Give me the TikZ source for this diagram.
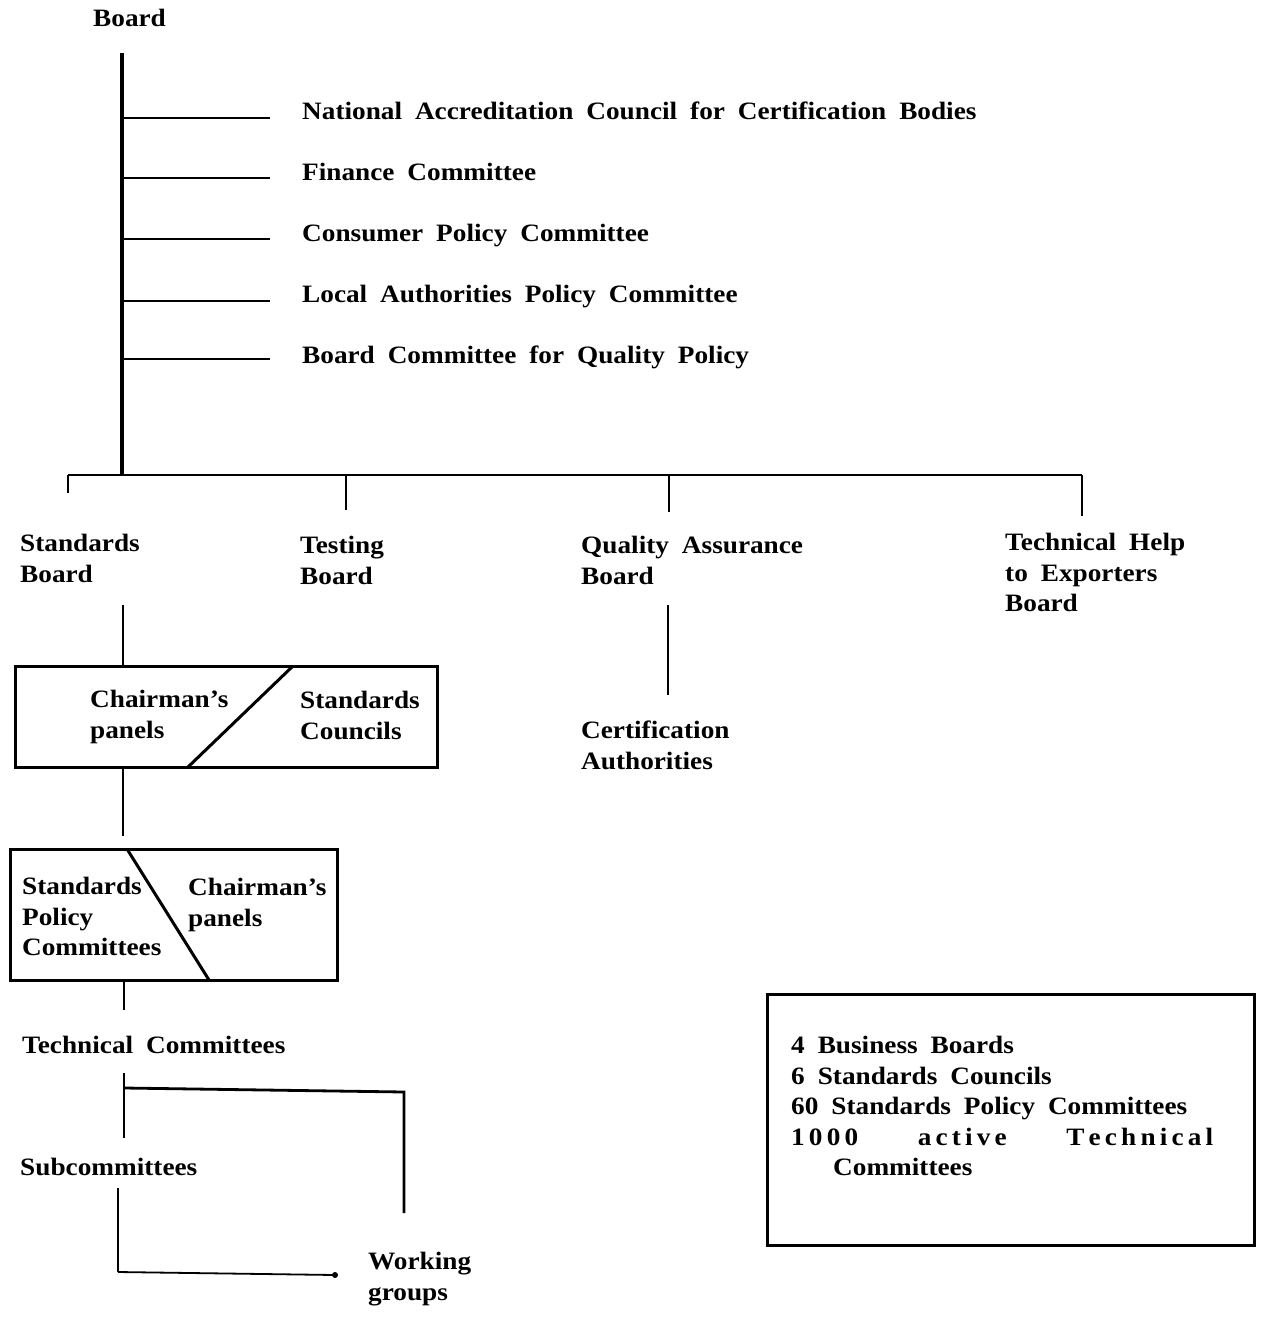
\documentclass[tikz,border=0pt]{standalone}
\usepackage{fontspec}
\setmainfont{Liberation Serif}[FakeStretch=1.09,WordSpace=1.9]
\begin{document}
\begin{tikzpicture}[x=1pt,y=-1pt,
  lbl/.style={font=\bfseries\fontsize{25}{30.5}\selectfont, inner sep=0pt, align=left, anchor=north west},
  ln/.style={line width=2.8pt},
  mainln/.style={line width=3.8pt},
  boxln/.style={line width=3pt}]
\useasboundingbox (0,0) rectangle (1261,1319);

% top board and committees
\node[lbl] (board) at (93,9) {Board};
\node[lbl] (nac) at (302,102) {National Accreditation Council for Certification Bodies};
\node[lbl] (fin) at (302,163) {Finance Committee};
\node[lbl] (cons) at (302,224) {Consumer Policy Committee};
\node[lbl] (lapc) at (302,285) {Local Authorities Policy Committee};
\node[lbl] (bcqp) at (302,346) {Board Committee for Quality Policy};

\coordinate (top) at (122,53);
\coordinate (bus) at (122,475);
\draw[mainln] (top) -- (bus);
\foreach \y/\n in {118/nac,178/fin,239/cons,301/lapc,359/bcqp}{
  \draw[ln] (122,\y) -- (270,\y);
}

% bus
\coordinate (busL) at (68,475);
\coordinate (busR) at (1082,475);
\draw[ln] (busL) -- (busR);
\draw[ln] (busL) -- (68,493);
\draw[ln] (346,475) -- (346,510);
\draw[ln] (669,475) -- (669,512);
\draw[ln] (busR) -- (1082,516);

% boards
\node[lbl] (sb) at (20,534) {Standards\\Board};
\node[lbl] (tb) at (300,536) {Testing\\Board};
\node[lbl] (qab) at (581,536) {Quality Assurance\\Board};
\node[lbl] (the) at (1005,533) {Technical Help\\to Exporters\\Board};

% QA branch
\draw[ln] (668,605) -- (668,695);
\node[lbl] (ca) at (581,721) {Certification\\Authorities};

% box 1
\draw[ln] (123,605) -- (123,666);
\draw[boxln] (15,666) rectangle (437,767);
\draw[boxln] (293,666) -- (188,767);
\node[lbl] (cp1) at (90,690) {Chairman's\\panels};
\node[lbl] (sc) at (300,691) {Standards\\Councils};

% box 2
\draw[ln] (123,767) -- (123,836);
\draw[boxln] (10,849) rectangle (337,980);
\draw[boxln] (127,849) -- (209,980);
\node[lbl] (spc) at (22,877) {Standards\\Policy\\Committees};
\node[lbl] (cp2) at (188,878) {Chairman's\\panels};

% technical committees
\draw[ln] (124,980) -- (124,1010);
\node[lbl] (tc) at (22,1036) {Technical Committees};
\draw[ln] (124,1073) -- (124,1138);
\draw[ln] (124,1088) -- (404,1092) -- (404,1213);
\node[lbl] (sub) at (20,1158) {Subcommittees};
\draw[ln] (118,1188) -- (118,1272);
\draw[line width=1.8pt] (118,1272) -- (335,1275);
\fill (335,1275) circle (3pt);
\node[lbl] (wg) at (368,1252) {Working\\groups};

% info box
\draw[boxln] (767,994) rectangle (1254,1245);
\node[lbl] (info) at (791,1036) {4 Business Boards\\
6 Standards Councils\\
60 Standards Policy Committees\\
\makebox[422pt][s]{1\,0\,0\,0\hfill a\,c\,t\,i\,v\,e\hfill T\,e\,c\,h\,n\,i\,c\,a\,l}\\
\hspace*{42pt}Committees};
\end{tikzpicture}
\end{document}
